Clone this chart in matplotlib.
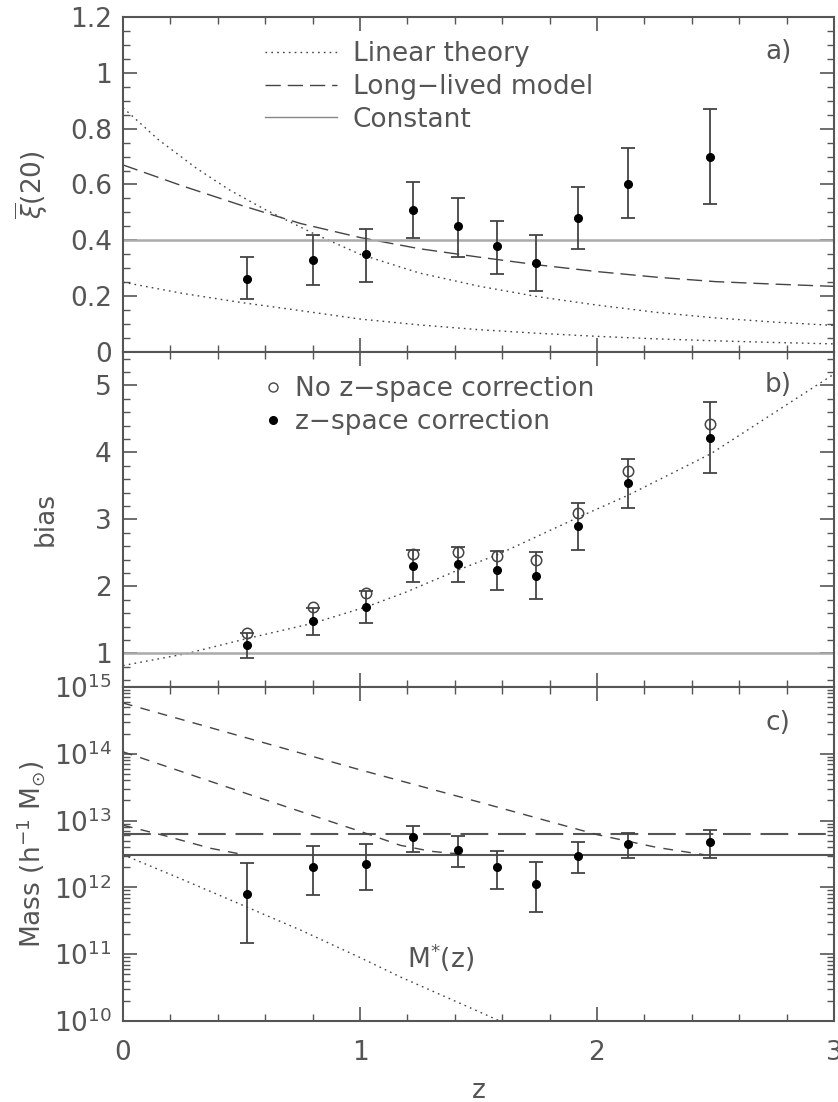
import numpy as np
import matplotlib
matplotlib.use("Agg")
import matplotlib.pyplot as plt
from matplotlib.ticker import MultipleLocator, LogLocator, NullFormatter
from matplotlib.lines import Line2D

# observed points (redshift bins)
z_obs = [0.525, 0.803, 1.025, 1.225, 1.412, 1.580, 1.744, 1.921, 2.131, 2.475]

# panel a : xi-bar(20)
xi_obs = [0.26, 0.33, 0.35, 0.51, 0.45, 0.38, 0.32, 0.48, 0.60, 0.70]
xi_lo = [0.19, 0.24, 0.25, 0.41, 0.34, 0.28, 0.22, 0.37, 0.48, 0.53]
xi_hi = [0.34, 0.42, 0.44, 0.61, 0.55, 0.47, 0.42, 0.59, 0.73, 0.87]

z_lin = [0, 0.15, 0.31, 0.45, 0.6, 0.8, 1.0, 1.25, 1.5, 1.75, 2.0, 2.25, 2.5, 2.75, 3.0]
xi_lin_hi = [0.875, 0.76, 0.658, 0.58, 0.51, 0.426, 0.35, 0.283, 0.236, 0.198, 0.168,
             0.142, 0.122, 0.107, 0.095]
z_mod = [0, 0.25, 0.5, 0.75, 1.0, 1.25, 1.5, 1.75, 2.0, 2.25, 2.5, 2.75, 3.0]
xi_lin_lo = [0.25, 0.21, 0.177, 0.148, 0.118, 0.097, 0.080, 0.067, 0.056, 0.047, 0.040,
             0.034, 0.029]
xi_long = [0.67, 0.595, 0.525, 0.46, 0.41, 0.37, 0.34, 0.312, 0.288, 0.268, 0.252,
           0.243, 0.235]
xi_const = 0.4

# panel b : bias
bias_corr = [1.12, 1.48, 1.70, 2.31, 2.33, 2.24, 2.16, 2.90, 3.54, 4.22]
bias_err = [0.18, 0.20, 0.24, 0.24, 0.26, 0.29, 0.35, 0.35, 0.37, 0.53]
bias_nocorr = [1.30, 1.69, 1.90, 2.49, 2.52, 2.45, 2.40, 3.10, 3.72, 4.42]
z_bfit = [0, 0.27, 0.52, 0.8, 1.03, 1.19, 1.41, 1.59, 1.92, 2.13, 2.48, 3.0]
bias_fit = [0.82, 1.0, 1.22, 1.45, 1.70, 1.91, 2.24, 2.49, 3.03, 3.36, 3.98, 5.17]

# panel c : mass (units 1e12 h^-1 Msun)
mass = [0.79, 2.04, 2.23, 5.6, 3.6, 2.0, 1.12, 2.97, 4.45, 4.7]
mass_hi = [2.3, 4.2, 4.45, 8.4, 5.8, 3.55, 2.4, 4.7, 6.5, 7.2]
mass_lo = [0.148, 0.78, 0.93, 3.4, 2.04, 0.95, 0.43, 1.67, 2.75, 2.75]
mass_const = 3.05
mass_long = 6.2
z_m1 = [0, 0.5, 1.0, 1.5, 2.0, 2.25, 2.45]
logm1 = [14.76, 14.26, 13.76, 13.28, 12.79, 12.6, 12.49]
z_m2 = [0, 0.5, 1.0, 1.17, 1.3, 1.45]
logm2 = [14.03, 13.43, 12.84, 12.63, 12.54, 12.49]
z_m3 = [0, 0.17, 0.37, 0.51]
logm3 = [12.93, 12.78, 12.585, 12.49]
z_mstar = [0, 0.25, 0.52, 0.75, 1.0, 1.17, 1.4, 1.59]
logmstar = [12.49, 12.12, 11.71, 11.36, 10.95, 10.66, 10.3, 10.0]

TXT = '#555555'
plt.rcParams['font.family'] = ['DejaVu Sans']
plt.rcParams['mathtext.fontset'] = 'dejavusans'
plt.rcParams['font.size'] = 19
plt.rcParams['text.color'] = TXT
plt.rcParams['axes.labelcolor'] = TXT
plt.rcParams['lines.scale_dashes'] = False

fig = plt.figure(figsize=(8.38, 11.02), dpi=100)
L, W = 0.1468, 0.8484
ax1 = fig.add_axes([L, 0.6806, W, 0.3040])
ax2 = fig.add_axes([L, 0.3766, W, 0.3040])
ax3 = fig.add_axes([L, 0.0735, W, 0.3031])

for ax in (ax1, ax2, ax3):
    ax.set_xlim(0, 3)
    ax.xaxis.set_major_locator(MultipleLocator(1))
    ax.xaxis.set_minor_locator(MultipleLocator(0.2))
    ax.tick_params(which='both', direction='in', top=True, right=True,
                   colors=TXT, labelsize=19, pad=8)
    ax.tick_params(which='major', length=10, width=1.2)
    ax.tick_params(which='minor', length=5, width=1.0)
    for s in ax.spines.values():
        s.set_color('#555555')
        s.set_linewidth(1.5)

err_kw = dict(fmt='o', color='black', ms=5.5, ecolor='#444444', elinewidth=1.3,
              capsize=4.7, capthick=1.3, zorder=5)

# ---- a) ----
dot = (0, (1.2, 3.0))
ax1.plot(z_lin, xi_lin_hi, color='#444444', lw=1.0, linestyle=dot)
ax1.plot(z_mod, xi_lin_lo, color='#444444', lw=1.0, linestyle=dot)
ax1.plot(z_mod, xi_long, color='#444444', lw=1.0, linestyle=(0, (11, 5)))
ax1.axhline(xi_const, color='#aaaaaa', lw=1.8)
xi_obs_a = np.array(xi_obs)
ax1.errorbar(z_obs, xi_obs, yerr=[xi_obs_a - np.array(xi_lo), np.array(xi_hi) - xi_obs_a], **err_kw)
ax1.set_ylim(0, 1.2)
ax1.yaxis.set_major_locator(MultipleLocator(0.2))
ax1.yaxis.set_minor_locator(MultipleLocator(0.05))
ax1.set_yticks([0, 0.2, 0.4, 0.6, 0.8, 1.0, 1.2])
ax1.set_yticklabels(['0', '0.2', '0.4', '0.6', '0.8', '1', '1.2'])
ax1.tick_params(labelbottom=False)
ax1.set_ylabel(r'$\overline{\xi}$(20)')
ax1.yaxis.set_label_coords(-0.103, 0.5)
h1 = Line2D([], [], color='#444444', lw=1.0, linestyle=dot)
h2 = Line2D([], [], color='#444444', lw=1.0, linestyle=(0, (11, 5)))
h3 = Line2D([], [], color='#888888', lw=1.0)
ax1.legend([h1, h2, h3], ['Linear theory', 'Long\u2212lived model', 'Constant'],
           loc='upper left', bbox_to_anchor=(0.1997, 0.927), frameon=False,
           handlelength=2.73, handletextpad=0.6, labelspacing=0.25,
           borderpad=0, borderaxespad=0, fontsize=19, labelcolor=TXT)
ax1.text(0.903, 0.896, 'a)', transform=ax1.transAxes, ha='left', va='center')

# ---- b) ----
ax2.plot(z_bfit, bias_fit, color='#444444', lw=1.0, linestyle=dot)
ax2.axhline(1.0, color='#aaaaaa', lw=1.8)
ax2.plot(z_obs, bias_nocorr, 'o', ms=7.5, mfc='none', mec='#444444', mew=1.1, zorder=6)
ax2.errorbar(z_obs, bias_corr, yerr=bias_err, **err_kw)
ax2.set_ylim(0.5, 5.5)
ax2.yaxis.set_major_locator(MultipleLocator(1))
ax2.yaxis.set_minor_locator(MultipleLocator(0.2))
ax2.tick_params(labelbottom=False)
ax2.set_ylabel('bias')
ax2.yaxis.set_label_coords(-0.091, 0.5)
hb1 = Line2D([], [], marker='o', ls='none', ms=6.5, mfc='none', mec='#444444', mew=1.0)
hb2 = Line2D([], [], marker='o', ls='none', ms=5.5, color='black')
ax2.legend([hb1, hb2], ['No z\u2212space correction', 'z\u2212space correction'],
           loc='upper left', bbox_to_anchor=(0.1955, 0.927), frameon=False,
           handlelength=0.8, handletextpad=0.45, labelspacing=0.25,
           borderpad=0, borderaxespad=0, fontsize=19, labelcolor=TXT)
ax2.text(0.903, 0.901, 'b)', transform=ax2.transAxes, ha='left', va='center')

# ---- c) ----
ax3.set_yscale('log')
ax3.set_ylim(1e10, 1e15)
ax3.axhline(mass_const * 1e12, color='#555555', lw=1.5)
ax3.axhline(mass_long * 1e12, color='#555555', lw=1.5, linestyle=(0, (20, 7)))
mdash = (0, (7, 6))
for zz, lm in ((z_m1, logm1), (z_m2, logm2), (z_m3, logm3)):
    ax3.plot(zz, 10 ** np.array(lm), color='#444444', lw=1.0, linestyle=mdash)
ax3.plot(z_mstar, 10 ** np.array(logmstar), color='#444444', lw=1.0, linestyle=dot)
m = np.array(mass) * 1e12
ax3.errorbar(z_obs, m, yerr=[m - np.array(mass_lo) * 1e12, np.array(mass_hi) * 1e12 - m], **err_kw)
ax3.yaxis.set_major_locator(LogLocator(base=10, numticks=10))
ax3.yaxis.set_minor_locator(LogLocator(base=10, subs=np.arange(2, 10), numticks=20))
ax3.yaxis.set_minor_formatter(NullFormatter())
ax3.set_xticks([0, 1, 2, 3])
ax3.set_xticklabels(['0', '1', '2', '3'])
ax3.tick_params(axis='x', pad=14)
ax3.set_xlabel('z', labelpad=8)
ax3.set_ylabel(r'Mass (h$^{-1}$ M$_{\odot}$)')
ax3.yaxis.set_label_coords(-0.105, 0.5)
ax3.text(1.2, 9e10, r'M$^{*}$(z)', ha='left', va='center')
ax3.text(0.903, 0.892, 'c)', transform=ax3.transAxes, ha='left', va='center')

fig.savefig('out.png', dpi=100)
